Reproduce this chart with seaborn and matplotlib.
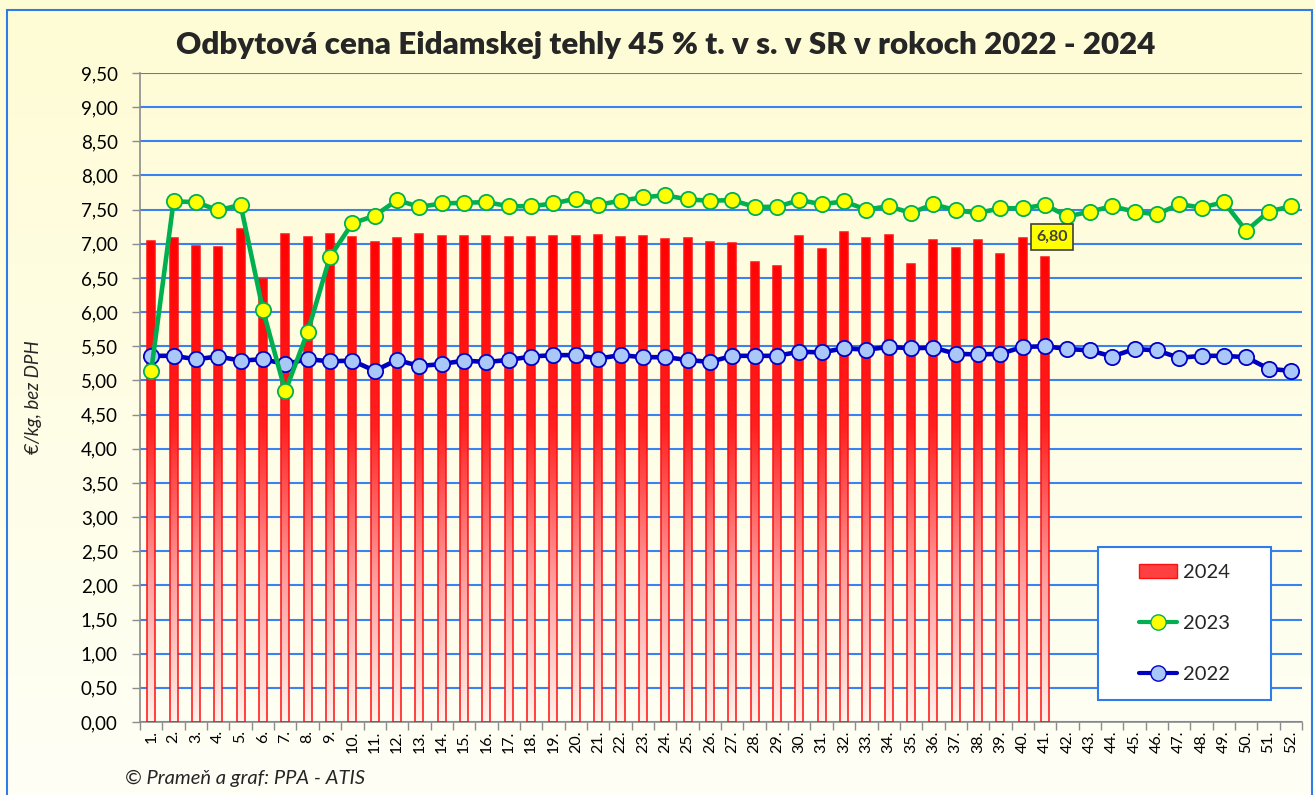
import numpy as np
import pandas as pd
import matplotlib
matplotlib.use('Agg')
import matplotlib.pyplot as plt
from matplotlib.colors import LinearSegmentedColormap
from matplotlib.patches import Rectangle
from matplotlib.lines import Line2D
from matplotlib.path import Path
from matplotlib.ticker import FuncFormatter
import seaborn as sns

# Data (odčítané z grafu)
tyzdne = list(range(1, 53))
popisky_tyzdnov = [f'{t}.' for t in tyzdne]

ceny_2024 = [7.04, 7.09, 6.97, 6.95, 7.22, 6.48, 7.14, 7.10, 7.15, 7.10,
             7.02, 7.08, 7.15, 7.11, 7.11, 7.11, 7.10, 7.10, 7.11, 7.12,
             7.13, 7.10, 7.11, 7.07, 7.09, 7.03, 7.01, 6.73, 6.68, 7.12,
             6.92, 7.17, 7.08, 7.13, 6.71, 7.06, 6.94, 7.05, 6.85, 7.09, 6.80]

ceny_2023 = [5.14, 7.62, 7.61, 7.49, 7.57, 6.03, 4.84, 5.71, 6.81, 7.30,
             7.41, 7.64, 7.54, 7.59, 7.60, 7.61, 7.55, 7.55, 7.59, 7.66,
             7.57, 7.63, 7.68, 7.71, 7.65, 7.63, 7.64, 7.54, 7.54, 7.64,
             7.58, 7.62, 7.50, 7.55, 7.45, 7.58, 7.49, 7.45, 7.52, 7.52,
             7.57, 7.40, 7.47, 7.55, 7.47, 7.43, 7.58, 7.53, 7.61, 7.19, 7.47, 7.55]

ceny_2022 = [5.36, 5.36, 5.31, 5.35, 5.29, 5.31, 5.24, 5.31, 5.28, 5.29,
             5.14, 5.30, 5.21, 5.24, 5.29, 5.27, 5.30, 5.35, 5.37, 5.37,
             5.32, 5.37, 5.34, 5.34, 5.30, 5.27, 5.36, 5.36, 5.36, 5.42,
             5.41, 5.47, 5.45, 5.49, 5.47, 5.48, 5.39, 5.38, 5.39, 5.49,
             5.50, 5.46, 5.44, 5.35, 5.46, 5.44, 5.33, 5.36, 5.36, 5.34, 5.17, 5.14]

df = pd.DataFrame({
    'tyzden': tyzdne,
    '2024': ceny_2024 + [np.nan] * (52 - len(ceny_2024)),
    '2023': ceny_2023,
    '2022': ceny_2022,
})

sns.set_theme(style='white')
plt.rcParams['font.family'] = ['Lato', 'DejaVu Sans']

fig = plt.figure(figsize=(13.15, 7.95), dpi=100)

# pozadie s prechodom
bg = fig.add_axes([0, 0, 1, 1], zorder=-10)
bg_cmap = LinearSegmentedColormap.from_list('bg', ['#FFFFF6', '#FEFCD4'])
bg.imshow(np.linspace(0, 1, 256).reshape(-1, 1), cmap=bg_cmap, aspect='auto',
          extent=[0, 1, 0, 1], origin='lower')
bg.axis('off')
fig.patches.append(Rectangle((7 / 1315, -0.01), 1305 / 1315, 0.9987 - 9 / 795 + 0.01,
                             transform=fig.transFigure, fill=False,
                             edgecolor='#2F7BEA', lw=1.5))

ax = fig.add_axes([0.1065, 0.0918, 0.8837, 0.8164])
ax.patch.set_alpha(0)

# 2024 - stĺpce
sns.barplot(data=df, x='tyzden', y='2024', native_scale=True, width=0.36,
            color='red', errorbar=None, ax=ax, zorder=2)

bar_cmap = LinearSegmentedColormap.from_list(
    'bar', [(0, '#FFF2EA'), (0.3, '#FF9A9A'), (0.6, '#FF2020'), (1, '#FF0000')])
bars = list(ax.patches)
for p in bars:
    p.set_facecolor('none')
    p.set_edgecolor('#FF1010')
    p.set_linewidth(1.1)
    p.set_zorder(3)
paths = [p.get_path().transformed(p.get_patch_transform()) for p in bars]
clip = Path.make_compound_path(*paths)
im = ax.imshow(np.linspace(0, 1, 256).reshape(-1, 1), cmap=bar_cmap, aspect='auto',
               origin='lower', extent=[0.5, 52.5, 0, max(ceny_2024)],
               interpolation='bilinear', zorder=2)
im.set_clip_path(clip, ax.transData)

# 2022 a 2023 - čiary
sns.lineplot(data=df, x='tyzden', y='2022', color='#0000C0', lw=3.3,
             marker='o', markersize=11, markerfacecolor='#A9C8F8',
             markeredgecolor='#0000C8', markeredgewidth=1.3, ax=ax, zorder=4)
sns.lineplot(data=df, x='tyzden', y='2023', color='#00B050', lw=3.3,
             marker='o', markersize=11, markerfacecolor='#FFFF00',
             markeredgecolor='#00B050', markeredgewidth=1.3, ax=ax, zorder=5)

# popisok poslednej hodnoty
posl = len(ceny_2024)
ax.text(posl + 0.31, ceny_2024[-1] + 0.30, f'{ceny_2024[-1]:.2f}'.replace('.', ','),
        ha='center', va='center', fontsize=11.5, fontweight='bold', color='#404040',
        bbox=dict(boxstyle='square,pad=0.35', fc='#FFFF00', ec='#404040', lw=1.2),
        zorder=6)

ax.set_xlim(0.5, 52.5)
ax.set_ylim(0, 9.5)
ax.set_yticks(np.arange(0, 9.51, 0.5))
ax.yaxis.set_major_formatter(FuncFormatter(lambda v, _: f'{v:.2f}'.replace('.', ',')))
ax.set_xticks(tyzdne)
ax.set_xticklabels(popisky_tyzdnov, rotation=90)
ax.set_xticks(np.arange(0.5, 53, 1), minor=True)
ax.tick_params(axis='x', which='major', length=0, labelsize=11.5, pad=6, colors='black')
ax.tick_params(axis='x', which='minor', length=6, width=1, color='#8C8C8C', bottom=True)
ax.tick_params(axis='y', length=6, width=1, color='#8C8C8C', left=True,
               labelsize=13.5, labelcolor='black', pad=10)

ax.set_axisbelow(True)
ax.yaxis.grid(True, color='#3A82F0', lw=1.5)
ax.xaxis.grid(False)
for s in ['top', 'right']:
    ax.spines[s].set_visible(False)
for s in ['left', 'bottom']:
    ax.spines[s].set_color('#8C8C8C')
    ax.spines[s].set_linewidth(1.2)

ax.set_xlabel('')
ax.set_ylabel('€/kg, bez DPH', fontsize=13.5, style='italic', labelpad=0)
ax.yaxis.set_label_coords(-0.084, 0.5)

# legenda
ax.add_patch(Rectangle((0.824, 0.034), 0.149, 0.236, transform=ax.transAxes,
                       facecolor='white', edgecolor='#2F7BEA', lw=1.5, zorder=7))
handles = [
    Rectangle((0, 0), 1, 1, facecolor='#FF4040', edgecolor='#FF1010'),
    Line2D([], [], color='#00B050', lw=3, marker='o', markersize=11,
           markerfacecolor='#FFFF00', markeredgecolor='#00B050'),
    Line2D([], [], color='#0000C0', lw=3, marker='o', markersize=11,
           markerfacecolor='#A9C8F8', markeredgecolor='#0000C8'),
]
leg = ax.legend(handles, ['2024', '2023', '2022'], loc='center',
                bbox_to_anchor=(0.8989, 0.1518), bbox_transform=ax.transAxes,
                frameon=False, fontsize=14.5, handlelength=1.9, handletextpad=0.3,
                labelspacing=1.7)
leg.set_zorder(8)

fig.text(0.506, 0.943, 'Odbytová cena Eidamskej tehly 45 % t. v s. v SR v rokoch 2022 - 2024',
         ha='center', va='center', fontsize=22.5, fontweight='heavy')
fig.text(0.095, 0.021, '© Prameň a graf: PPA - ATIS', ha='left', va='center',
         fontsize=14.5, style='italic')

plt.savefig('out.png', dpi=100)
